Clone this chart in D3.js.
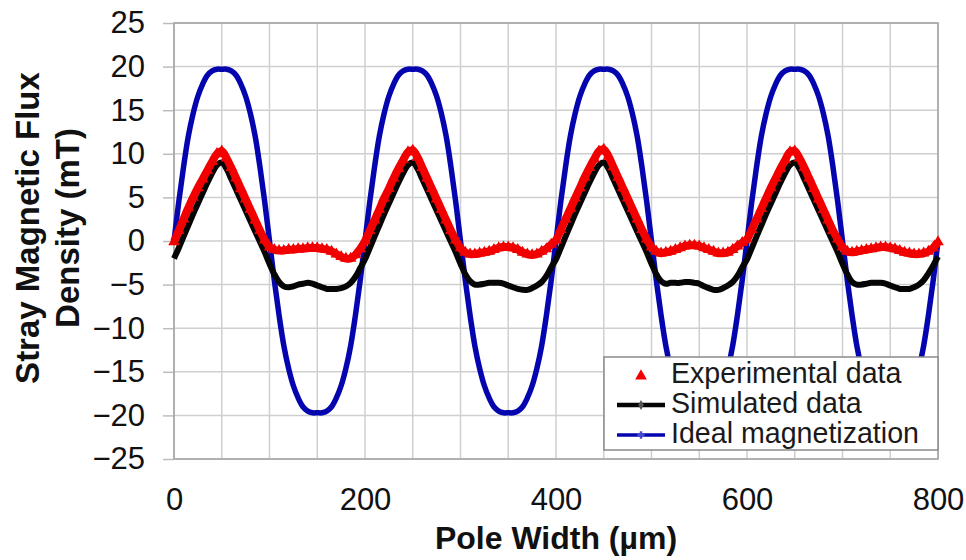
<!DOCTYPE html>
<html>
<head>
<meta charset="utf-8">
<script src="https://cdn.jsdelivr.net/npm/d3@7"></script>
<style>
  body { margin: 0; background: #fff; }
  svg { display: block; font-family: Arial, "Liberation Sans", sans-serif; }
</style>
</head>
<body>
<svg id="chart" width="966" height="560"></svg>
<script>
// Sample positions along the pole array (µm)
const poleWidth = d3.range(0, 801, 5);

// Ideal magnetization field (mT)
const idealMagnetization = [
  0, 4.5, 8.5, 12, 14.6, 16.6, 18, 19, 19.5, 19.7, 19.7, 19.7, 19.5, 19, 18, 16.6, 14.6, 12, 8.5, 4.5,
  0, -4.5, -8.5, -12, -14.6, -16.6, -18, -19, -19.5, -19.7, -19.7, -19.7, -19.5, -19, -18, -16.6, -14.6, -12, -8.5, -4.5,
  0, 4.5, 8.5, 12, 14.6, 16.6, 18, 19, 19.5, 19.7, 19.7, 19.7, 19.5, 19, 18, 16.6, 14.6, 12, 8.5, 4.5,
  0, -4.5, -8.5, -12, -14.6, -16.6, -18, -19, -19.5, -19.7, -19.7, -19.7, -19.5, -19, -18, -16.6, -14.6, -12, -8.5, -4.5,
  0, 4.5, 8.5, 12, 14.6, 16.6, 18, 19, 19.5, 19.7, 19.7, 19.7, 19.5, 19, 18, 16.6, 14.6, 12, 8.5, 4.5,
  0, -4.5, -8.5, -12, -14.6, -16.6, -18, -19, -19.5, -19.7, -19.7, -19.7, -19.5, -19, -18, -16.6, -14.6, -12, -8.5, -4.5,
  0, 4.5, 8.5, 12, 14.6, 16.6, 18, 19, 19.5, 19.7, 19.7, 19.7, 19.5, 19, 18, 16.6, 14.6, 12, 8.5, 4.5,
  0, -4.5, -8.5, -12, -14.6, -16.6, -18, -19, -19.5, -19.7, -19.7, -19.7, -19.5, -19, -18, -16.6, -14.6, -12, -8.5, -4.5,
  0
];

// Simulated stray field (mT)
const simulatedData = [
  -2.0, -0.8, 0.5, 1.8, 3.1, 4.3, 5.5, 6.7, 7.8, 8.7, 9.0, 8.3, 7.1, 5.9, 4.7, 3.5, 2.3, 1.1, -0.1, -1.3,
  -2.6, -3.8, -4.7, -5.2, -5.3, -5.2, -5.0, -4.9, -4.8, -4.9, -5.1, -5.3, -5.5, -5.5, -5.5, -5.4, -5.2, -4.8, -4.1, -3.1,
  -2.1, -0.8, 0.5, 1.8, 3.1, 4.3, 5.5, 6.7, 7.8, 8.7, 9.0, 8.3, 7.1, 5.9, 4.7, 3.5, 2.3, 1.1, -0.1, -1.3,
  -2.6, -3.8, -4.6, -5.0, -5.0, -4.9, -4.8, -4.8, -4.8, -4.9, -5.1, -5.3, -5.5, -5.6, -5.6, -5.4, -5.1, -4.7, -4.0, -3.0,
  -2.1, -0.8, 0.5, 1.8, 3.1, 4.3, 5.5, 6.7, 7.8, 8.7, 9.0, 8.3, 7.1, 5.9, 4.7, 3.5, 2.3, 1.1, -0.1, -1.3,
  -2.6, -3.8, -4.6, -4.9, -4.8, -4.8, -4.8, -4.7, -4.7, -4.8, -4.9, -5.2, -5.4, -5.6, -5.6, -5.4, -5.1, -4.7, -4.0, -3.0,
  -2.1, -0.8, 0.5, 1.8, 3.1, 4.3, 5.5, 6.7, 7.8, 8.7, 9.0, 8.3, 7.1, 5.9, 4.7, 3.5, 2.3, 1.1, -0.1, -1.3,
  -2.6, -3.8, -4.7, -5.0, -5.0, -4.9, -4.8, -4.8, -4.8, -4.9, -5.1, -5.3, -5.5, -5.5, -5.5, -5.3, -5.0, -4.5, -3.7, -2.8,
  -1.8
];

// Measured stray field (mT)
const experimentalData = [
  -0.1, 1.2, 2.5, 3.8, 5.0, 6.1, 7.1, 8.1, 9.1, 10.0, 10.3, 9.5, 8.4, 7.2, 6.0, 4.8, 3.6, 2.4, 1.2, 0.1,
  -0.7, -1.0, -1.1, -1.1, -1.0, -1.0, -0.9, -0.9, -0.8, -0.8, -0.8, -0.9, -1.0, -1.2, -1.5, -1.8, -2.0, -2.0, -1.6, -0.9,
  0.0, 1.2, 2.4, 3.6, 4.9, 6.0, 7.2, 8.3, 9.3, 10.2, 10.4, 9.6, 8.4, 7.2, 6.0, 4.8, 3.6, 2.4, 1.2, 0.1,
  -0.8, -1.3, -1.5, -1.5, -1.4, -1.3, -1.2, -1.0, -0.8, -0.7, -0.7, -0.8, -1.0, -1.3, -1.5, -1.6, -1.5, -1.2, -0.9, -0.4,
  0.1, 1.3, 2.5, 3.7, 4.9, 6.1, 7.3, 8.4, 9.4, 10.3, 10.5, 9.7, 8.5, 7.3, 6.1, 4.9, 3.7, 2.5, 1.3, 0.2,
  -0.7, -1.2, -1.4, -1.3, -1.2, -1.0, -0.8, -0.6, -0.5, -0.5, -0.6, -0.8, -1.0, -1.2, -1.4, -1.4, -1.3, -1.0, -0.6, -0.2,
  0.2, 1.3, 2.5, 3.7, 4.9, 6.1, 7.2, 8.3, 9.3, 10.2, 10.3, 9.5, 8.4, 7.2, 6.0, 4.8, 3.6, 2.4, 1.2, 0.2,
  -0.7, -1.2, -1.3, -1.2, -1.1, -1.0, -0.9, -0.8, -0.7, -0.7, -0.8, -0.9, -1.1, -1.3, -1.4, -1.5, -1.5, -1.4, -1.2, -0.8,
  -0.1
];

const xTicks = [0, 200, 400, 600, 800];
const yTicks = [-25, -20, -15, -10, -5, 0, 5, 10, 15, 20, 25];
const xGrid = d3.range(0, 801, 50);

const seriesNames = ["Experimental data", "Simulated data", "Ideal magnetization"];

const svg = d3.select("#chart");
const plot = { left: 174, right: 938, top: 23, bottom: 459 };

const x = d3.scaleLinear().domain([0, 800]).range([plot.left, plot.right]);
const y = d3.scaleLinear().domain([-25, 25]).range([plot.bottom, plot.top]);

// Grid
const grid = svg.append("g");
grid.selectAll("line.v").data(xGrid).join("line")
  .attr("x1", d => x(d)).attr("x2", d => x(d))
  .attr("y1", plot.top).attr("y2", plot.bottom)
  .attr("stroke", "#cfcfcf").attr("stroke-width", 1.5);
grid.selectAll("line.h").data(yTicks).join("line")
  .attr("x1", plot.left).attr("x2", plot.right)
  .attr("y1", d => y(d)).attr("y2", d => y(d))
  .attr("stroke", "#cfcfcf").attr("stroke-width", 1.5);

// Axes
const yAxis = svg.append("g")
  .attr("transform", `translate(${plot.left},0)`)
  .call(d3.axisLeft(y).tickValues(yTicks).tickSize(11).tickPadding(18));
yAxis.select(".domain").remove();
yAxis.selectAll(".tick line").attr("stroke", "#bdbdbd").attr("stroke-width", 1.5);
yAxis.selectAll(".tick text").attr("font-size", 31).attr("fill", "#111")
  .attr("font-family", "Arial, 'Liberation Sans', sans-serif");

const xAxis = svg.append("g")
  .attr("transform", `translate(0,${plot.bottom})`)
  .call(d3.axisBottom(x).tickValues(xTicks).tickSize(0).tickPadding(29));
xAxis.select(".domain").remove();
xAxis.selectAll(".tick text").attr("font-size", 31).attr("fill", "#111")
  .attr("font-family", "Arial, 'Liberation Sans', sans-serif");

// Plot frame
svg.append("rect")
  .attr("x", plot.left).attr("y", plot.top)
  .attr("width", plot.right - plot.left).attr("height", plot.bottom - plot.top)
  .attr("fill", "none").attr("stroke", "#a3a3a3").attr("stroke-width", 1.5);

// Series
const line = (vals) => d3.line()
  .x((d, i) => x(poleWidth[i]))
  .y(d => y(d))
  .curve(d3.curveCatmullRom.alpha(0.5))(vals);

svg.append("path").attr("d", line(idealMagnetization))
  .attr("fill", "none").attr("stroke", "#0505b0").attr("stroke-width", 5.5)
  .attr("stroke-linejoin", "round");

svg.append("path").attr("d", line(simulatedData))
  .attr("fill", "none").attr("stroke", "#050505").attr("stroke-width", 6)
  .attr("stroke-linejoin", "round");

svg.append("path").attr("d", line(experimentalData))
  .attr("fill", "none").attr("stroke", "#f20000").attr("stroke-width", 8)
  .attr("stroke-linejoin", "round");

const tri = d3.symbol(d3.symbolTriangle).size(58);
svg.append("g").selectAll("path").data(experimentalData).join("path")
  .attr("d", tri)
  .attr("transform", (d, i) => `translate(${x(poleWidth[i])},${y(d)})`)
  .attr("fill", "#f20000");

// Legend
const lg = svg.append("g");
lg.append("rect")
  .attr("x", 604).attr("y", 357).attr("width", 334).attr("height", 93)
  .attr("fill", "#fff").attr("stroke", "#8a8a8a").attr("stroke-width", 1.5);

const rowsY = [376, 405, 435];
lg.append("path").attr("d", d3.symbol(d3.symbolTriangle).size(60))
  .attr("transform", `translate(641,${rowsY[0]})`).attr("fill", "#f20000");
lg.append("line").attr("x1", 617).attr("x2", 665).attr("y1", rowsY[1]).attr("y2", rowsY[1])
  .attr("stroke", "#050505").attr("stroke-width", 4.5);
lg.append("path").attr("d", d3.symbol(d3.symbolDiamond).size(28))
  .attr("transform", `translate(641,${rowsY[1]})`).attr("fill", "#555");
lg.append("line").attr("x1", 617).attr("x2", 665).attr("y1", rowsY[2]).attr("y2", rowsY[2])
  .attr("stroke", "#0505b0").attr("stroke-width", 3.5);
lg.append("path").attr("d", d3.symbol(d3.symbolCross).size(30))
  .attr("transform", `translate(641,${rowsY[2]})`).attr("fill", "#4a4ad0");

lg.selectAll("text").data(seriesNames).join("text")
  .attr("x", 671).attr("y", (d, i) => [383, 413, 443][i])
  .attr("font-size", 28.6).attr("fill", "#1a1a1a")
  .text(d => d);

// Axis titles
svg.append("text")
  .attr("x", 556).attr("y", 549)
  .attr("text-anchor", "middle").attr("font-size", 32).attr("font-weight", "bold")
  .attr("fill", "#111")
  .text("Pole Width (µm)");

const yt = svg.append("text")
  .attr("transform", "translate(0,228) rotate(-90)")
  .attr("text-anchor", "middle").attr("font-size", 33).attr("font-weight", "bold")
  .attr("fill", "#111");
yt.append("tspan").attr("x", 0).attr("y", 39).text("Stray Magnetic Flux");
yt.append("tspan").attr("x", 0).attr("y", 79).text("Density (mT)");
</script>
</body>
</html>
